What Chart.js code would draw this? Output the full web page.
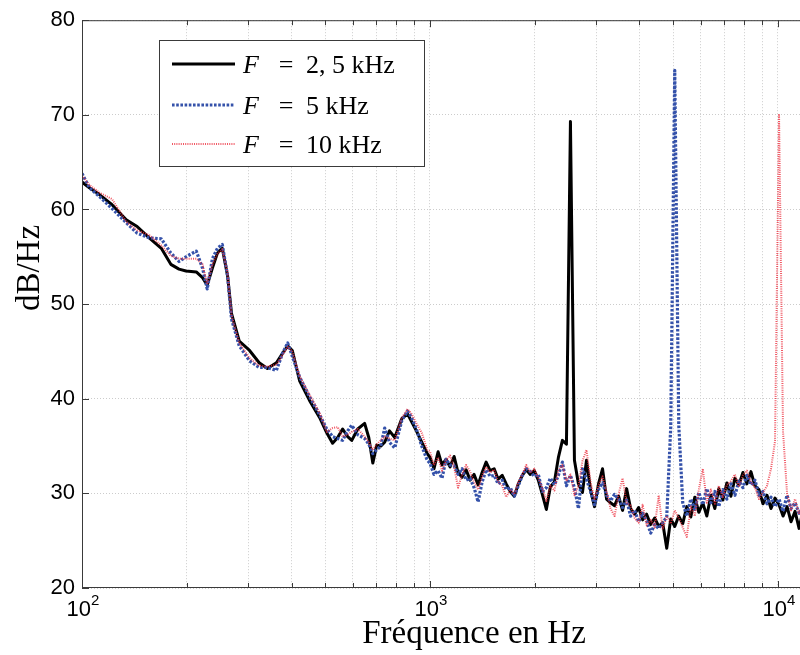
<!DOCTYPE html>
<html>
<head>
<meta charset="utf-8">
<title>Spectre</title>
<script src="https://cdn.jsdelivr.net/npm/chart.js@4.4.1/dist/chart.umd.min.js"></script>
<style>
  html, body { margin: 0; padding: 0; background: #fff; }
  #wrap { width: 800px; height: 655px; }
</style>
</head>
<body>
<div id="wrap"><canvas id="psd" width="800" height="655"></canvas></div>
<script>
// frequencies (Hz), low part read point by point, high part every ~4 px
const freqLow = [100, 105, 112, 122, 134, 144, 156, 169, 180, 190, 199, 213, 222, 229, 237, 245, 253, 262, 269, 283,
  303, 323, 341, 362, 377, 390, 402, 422, 451, 482, 505, 525, 543, 561, 580, 596, 620, 649, 667, 685,
  703, 722, 741, 765, 792, 830, 862, 885, 914, 947, 982];
const freqHigh = [1000, 1027, 1055, 1083, 1112, 1142, 1173, 1204, 1237, 1270, 1304, 1339, 1375, 1412, 1450, 1489, 1529, 1570, 1613, 1656,
  1701, 1747, 1794, 1842, 1891, 1942, 1994, 2048, 2103, 2160, 2218, 2278, 2339, 2402, 2467, 2533, 2601, 2671, 2743, 2817,
  2893, 2970, 3050, 3132, 3217, 3303, 3392, 3483, 3577, 3673, 3772, 3873, 3977, 4084, 4194, 4307, 4423, 4542, 4664, 4790,
  4919, 5051, 5187, 5326, 5469, 5617, 5768, 5923, 6082, 6246, 6414, 6586, 6763, 6945, 7132, 7324, 7521, 7723, 7931, 8144,
  8363, 8588, 8819, 9056, 9300, 9550, 9807, 10071, 10342, 10620, 10905, 11198, 11499, 11808];

// F = 2,5 kHz (dB/Hz)
const blackLow = [62.9, 62.3, 61.6, 60.5, 58.9, 58.2, 57.0, 55.9, 54.2, 53.7, 53.5, 53.4, 52.8, 52.0, 53.8, 55.4, 55.9, 53.0, 49.0, 46.1,
  45.1, 43.8, 43.2, 43.8, 44.8, 45.6, 45.1, 41.9, 39.8, 38.0, 36.4, 35.3, 35.9, 36.8, 36.0, 35.6, 36.8, 37.4, 35.9, 33.2,
  35.1, 35.0, 35.4, 36.6, 35.9, 37.9, 38.4, 37.6, 36.6, 35.4, 34.2];
const blackHigh = [33.8, 32.6, 34.4, 33.0, 33.6, 32.8, 33.9, 32.2, 31.7, 32.5, 31.4, 32.0, 30.9, 32.2, 33.3, 32.4, 32.6, 31.5, 31.9, 31.0,
  30.2, 29.7, 31.0, 31.9, 32.5, 32.0, 32.4, 31.4, 29.9, 28.3, 30.7, 31.2, 33.8, 35.6, 35.2, 69.3, 33.5, 31.0, 30.1, 33.5,
  30.4, 28.6, 31.0, 32.6, 29.4, 29.0, 28.7, 29.7, 28.2, 30.5, 28.4, 27.8, 28.5, 27.2, 27.8, 26.7, 27.4, 26.5, 26.9, 24.2,
  27.3, 26.5, 27.6, 26.8, 28.6, 27.5, 29.6, 28.0, 29.0, 27.6, 29.8, 28.4, 30.5, 29.3, 31.1, 29.7, 31.6, 30.9, 32.2, 31.0,
  32.3, 30.8, 30.4, 28.9, 29.8, 28.4, 29.5, 28.8, 27.6, 28.6, 27.0, 28.1, 26.3, 28.2];

// F = 5 kHz
const blueLow = [63.8, 62.3, 61.4, 60.1, 58.6, 57.5, 57.0, 56.9, 55.4, 54.5, 55.0, 55.6, 53.8, 51.6, 54.8, 55.9, 56.3, 53.0, 48.4, 45.6,
  44.0, 43.3, 43.3, 43.0, 44.8, 45.9, 44.5, 42.3, 40.2, 38.3, 36.8, 36.0, 35.8, 35.6, 36.6, 37.2, 36.2, 35.8, 35.2, 34.2,
  34.6, 35.0, 36.9, 35.4, 34.8, 37.7, 38.7, 38.0, 36.8, 35.0, 33.5];
const blueHigh = [33.2, 32.0, 32.4, 31.6, 33.6, 33.0, 32.9, 32.0, 32.6, 31.4, 31.6, 30.6, 29.1, 31.2, 32.5, 31.8, 31.9, 31.0, 31.4, 30.4,
  30.6, 29.7, 30.8, 31.9, 32.6, 32.3, 31.8, 32.0, 30.2, 30.6, 31.6, 30.9, 31.9, 33.3, 30.8, 31.9, 30.6, 28.4, 32.6, 31.5,
  30.2, 28.8, 30.4, 31.1, 29.8, 29.2, 29.9, 29.4, 28.5, 29.3, 27.6, 28.2, 27.0, 27.9, 27.1, 25.8, 26.7, 26.3, 26.9, 27.5,
  37.0, 74.7, 37.2, 29.0, 27.6, 29.4, 28.3, 30.1, 28.8, 30.5, 29.0, 30.2, 28.6, 30.4, 29.4, 31.0, 29.8, 31.3, 30.6, 31.9,
  30.9, 31.4, 29.8, 30.2, 28.9, 29.6, 28.6, 29.4, 28.1, 29.8, 28.4, 29.0, 27.9, 28.5];

// F = 10 kHz
const redLow = [63.6, 62.6, 61.8, 61.1, 58.7, 57.8, 57.3, 56.2, 55.1, 54.8, 54.8, 54.8, 54.2, 52.1, 54.2, 55.3, 55.8, 53.3, 48.8, 45.9,
  44.3, 43.5, 43.4, 43.6, 44.6, 45.5, 45.0, 42.4, 40.4, 38.5, 36.5, 36.9, 37.0, 36.0, 36.2, 36.5, 36.8, 36.0, 35.4, 34.6,
  35.2, 35.6, 36.0, 35.8, 35.6, 38.0, 38.9, 38.4, 37.4, 36.4, 34.6];
const redHigh = [34.4, 33.0, 33.8, 32.4, 33.5, 34.0, 32.8, 30.6, 32.0, 33.0, 32.3, 31.2, 30.4, 31.8, 32.8, 32.2, 32.5, 31.2, 30.8, 29.6,
  30.4, 29.9, 31.2, 32.0, 33.0, 32.2, 32.6, 31.6, 30.6, 29.2, 30.8, 30.3, 32.4, 33.0, 31.3, 32.0, 29.8, 30.8, 33.4, 34.6,
  31.2, 29.4, 30.9, 31.8, 30.2, 28.4, 27.6, 29.9, 31.6, 29.0, 28.7, 27.4, 26.9, 28.8, 26.6, 27.2, 26.4, 29.8, 26.2, 27.6,
  26.8, 28.2, 27.4, 26.4, 25.4, 28.6, 27.6, 30.4, 32.6, 29.0, 30.4, 28.9, 30.8, 29.6, 30.9, 31.3, 32.0, 30.7, 31.9, 32.4,
  31.2, 30.6, 29.4, 30.1, 30.8, 32.6, 35.5, 70.1, 36.5, 30.0, 28.2, 29.4, 27.8, 29.0];

const seriesNames = ['F = 2,5 kHz', 'F = 5 kHz', 'F = 10 kHz'];
const legendValues = ['2, 5 kHz', '5 kHz', '10 kHz'];

// axes
const xMin = 100;
const xMax = 11570;
const xTicks = [100, 200, 300, 400, 500, 600, 700, 800, 900, 1000, 2000, 3000, 4000, 5000, 6000, 7000, 8000, 9000, 10000];
const xDecades = [100, 1000, 10000];
const xDecadeExp = ['2', '3', '4'];
const yTicks = [20, 30, 40, 50, 60, 70, 80];

const freq = freqLow.concat(freqHigh);
const toPoints = (vals) => freq.map((f, i) => ({ x: f, y: vals[i] }));

const SERIF = '"Liberation Serif", "DejaVu Serif", serif';
const SANS = '"Liberation Sans", Arial, sans-serif';

// frame, inner ticks, x tick labels, axis titles and legend box
const axesFrame = {
  id: 'axesFrame',
  afterDraw(chart) {
    const { ctx, chartArea: a, scales } = chart;
    const xs = scales.x, ys = scales.y;
    ctx.save();

    // box
    ctx.strokeStyle = '#3a3a3a';
    ctx.lineWidth = 1;
    ctx.setLineDash([]);
    ctx.strokeRect(a.left + 0.5, a.top + 0.5, a.right - a.left, a.bottom - a.top - 1);

    // inward ticks
    ctx.beginPath();
    xTicks.forEach(v => {
      const px = Math.round(xs.getPixelForValue(v)) + 0.5;
      const len = xDecades.includes(v) ? 7 : 5;
      ctx.moveTo(px, a.bottom); ctx.lineTo(px, a.bottom - len);
      ctx.moveTo(px, a.top); ctx.lineTo(px, a.top + len);
    });
    yTicks.forEach(v => {
      const py = Math.round(ys.getPixelForValue(v)) + 0.5;
      ctx.moveTo(a.left, py); ctx.lineTo(a.left + 7, py);
    });
    ctx.stroke();

    // x tick labels 10^n
    ctx.fillStyle = '#000';
    ctx.textBaseline = 'alphabetic';
    xDecades.forEach((v, i) => {
      const px = xs.getPixelForValue(v);
      ctx.font = '22px ' + SANS;
      const w1 = ctx.measureText('10').width;
      ctx.font = '15px ' + SANS;
      const w2 = ctx.measureText(xDecadeExp[i]).width;
      const x0 = px - (w1 + w2) / 2 + 1;
      ctx.font = '22px ' + SANS;
      ctx.textAlign = 'left';
      ctx.fillText('10', x0, a.bottom + 28);
      ctx.font = '15px ' + SANS;
      ctx.fillText(xDecadeExp[i], x0 + w1, a.bottom + 17);
    });

    // axis titles
    ctx.font = '33px ' + SERIF;
    ctx.textAlign = 'center';
    ctx.fillText('Fréquence en Hz', 474, 643);
    ctx.save();
    ctx.translate(39, 268);
    ctx.rotate(-Math.PI / 2);
    ctx.fillText('dB/Hz', 0, 0);
    ctx.restore();

    // legend
    const lx = 159.5, ly = 40.5, lw = 265, lh = 126;
    ctx.fillStyle = '#fff';
    ctx.fillRect(lx, ly, lw, lh);
    ctx.strokeStyle = '#3a3a3a';
    ctx.lineWidth = 1;
    ctx.strokeRect(lx, ly, lw, lh);
    const rows = [64, 105, 144];
    chart.data.datasets.forEach((ds, i) => {
      const y = rows[i];
      ctx.strokeStyle = ds.borderColor;
      ctx.lineWidth = ds.borderWidth;
      ctx.setLineDash(ds.borderDash || []);
      ctx.beginPath();
      ctx.moveTo(172, y); ctx.lineTo(235, y);
      ctx.stroke();
      ctx.setLineDash([]);
      ctx.fillStyle = '#000';
      ctx.textAlign = 'left';
      ctx.font = 'italic 26px ' + SERIF;
      ctx.fillText('F', 243, y + 9);
      ctx.font = '26px ' + SERIF;
      ctx.textAlign = 'center';
      ctx.fillText('=', 286, y + 9);
      ctx.textAlign = 'left';
      ctx.fillText(legendValues[i], 306, y + 9);
    });

    ctx.restore();
  }
};

new Chart(document.getElementById('psd'), {
  type: 'line',
  data: {
    datasets: [
      { label: seriesNames[0], data: toPoints(blackLow.concat(blackHigh)), borderColor: '#000000',
        borderWidth: 3, order: 2 },
      { label: seriesNames[1], data: toPoints(blueLow.concat(blueHigh)), borderColor: '#3552aa',
        borderWidth: 3.2, borderDash: [2.6, 1.6], order: 1 },
      { label: seriesNames[2], data: toPoints(redLow.concat(redHigh)), borderColor: 'rgba(236, 45, 60, 0.8)',
        borderWidth: 2, borderDash: [1, 1.2], order: 0 }
    ]
  },
  options: {
    responsive: false,
    animation: false,
    events: [],
    elements: {
      point: { radius: 0 },
      line: { tension: 0, borderJoinStyle: 'round', fill: false }
    },
    layout: { padding: { top: 17, left: 0, right: 0, bottom: 0 } },
    plugins: { legend: { display: false }, tooltip: { enabled: false } },
    scales: {
      x: {
        type: 'logarithmic',
        min: xMin,
        max: xMax,
        afterBuildTicks: s => { s.ticks = xTicks.map(v => ({ value: v })); },
        afterFit: s => { s.height = 67; },
        ticks: { display: false, autoSkip: false, maxRotation: 0 },
        grid: { color: '#cccccc', lineWidth: 1, drawTicks: false },
        border: { display: false, dash: [1, 2] }
      },
      y: {
        min: 20,
        max: 80,
        afterBuildTicks: s => { s.ticks = yTicks.map(v => ({ value: v })); },
        afterFit: s => { s.width = 82; },
        ticks: { color: '#000', padding: 7, font: { family: SANS, size: 22 } },
        grid: { color: '#cccccc', lineWidth: 1, drawTicks: false },
        border: { display: false, dash: [1, 2] }
      }
    }
  },
  plugins: [axesFrame]
});
</script>
</body>
</html>
